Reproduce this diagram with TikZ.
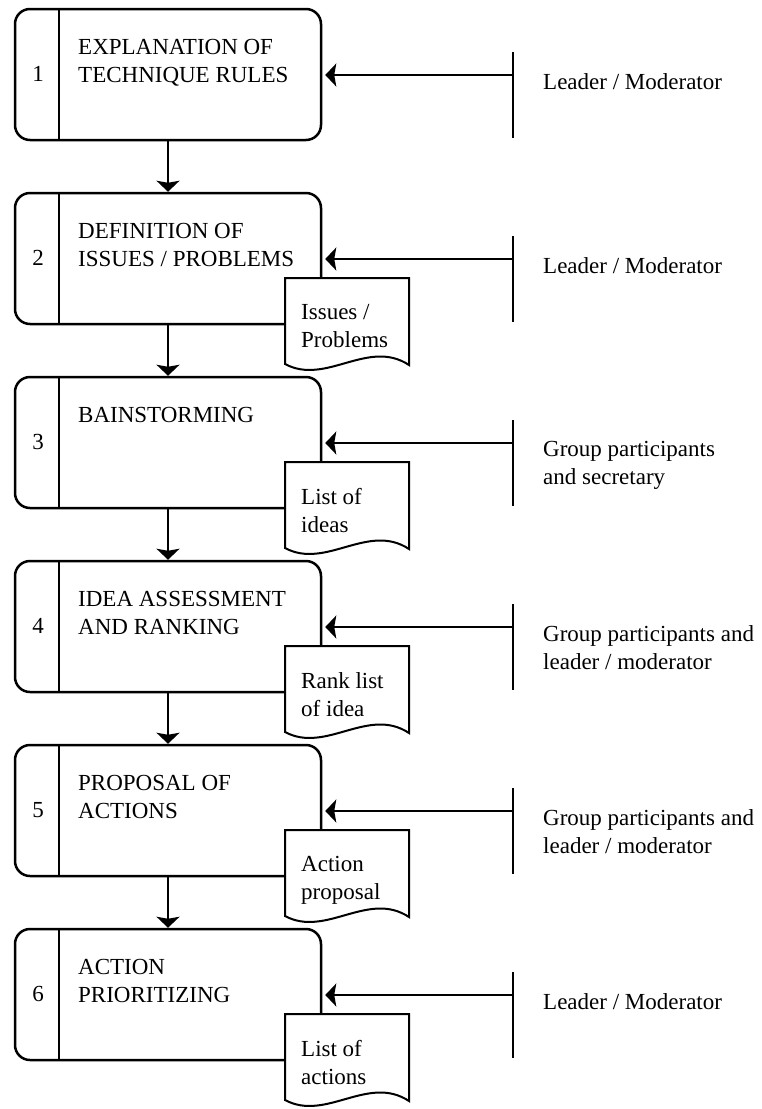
\documentclass[tikz,border=0pt]{standalone}
\usepackage{fontspec}
\setmainfont{Liberation Serif}
\usetikzlibrary{arrows.meta}

% document symbol, #1,#2 = top left corner
\newcommand\docshape[2]{%
  \draw[docline] (#1,#2) -- ++(124,0) -- ++(0,87)
    .. controls +(-41,-27) and +(41,22) .. ++(-124,-1) -- cycle;}

\begin{document}
\begin{tikzpicture}[x=1pt,y=-1pt,
    stepbox/.style={draw,line width=2.5pt,rounded corners=15pt,minimum width=306pt,minimum height=131pt,inner sep=0pt},
    divider/.style={line width=2.5pt},
    docline/.style={fill=white,line width=2pt},
    flow/.style={line width=2pt,-{Stealth[length=11pt,width=23pt,inset=2pt]}},
    tick/.style={line width=2pt},
    txt/.style={anchor=north west,inner sep=0pt,align=left,font=\fontsize{23}{28}\selectfont},
    num/.style={inner sep=0pt,font=\fontsize{23}{28}\selectfont}]
    \useasboundingbox (0,0) rectangle (761,1109);

    % steps
    \node[stepbox] (b1) at (168,74.5) {};
    \node[stepbox] (b2) at (168,258.5) {};
    \node[stepbox] (b3) at (168,442.5) {};
    \node[stepbox] (b4) at (168,626.5) {};
    \node[stepbox] (b5) at (168,810.5) {};
    \node[stepbox] (b6) at (168,994.5) {};
    \draw[divider] ([xshift=45pt]b1.north west) -- ([xshift=45pt]b1.south west);
    \draw[divider] ([xshift=45pt]b2.north west) -- ([xshift=45pt]b2.south west);
    \draw[divider] ([xshift=45pt]b3.north west) -- ([xshift=45pt]b3.south west);
    \draw[divider] ([xshift=45pt]b4.north west) -- ([xshift=45pt]b4.south west);
    \draw[divider] ([xshift=45pt]b5.north west) -- ([xshift=45pt]b5.south west);
    \draw[divider] ([xshift=45pt]b6.north west) -- ([xshift=45pt]b6.south west);

    \node[num] (n1) at (38,74) {1};
    \node[num] (n2) at (38,258) {2};
    \node[num] (n3) at (38,442) {3};
    \node[num] (n4) at (38,626) {4};
    \node[num] (n5) at (38,810) {5};
    \node[num] (n6) at (38,994) {6};

    \node[txt] (s1) at (78,39.5) {EXPLANATION OF\\TECHNIQUE RULES};
    \node[txt] (s2) at (78,223.5) {DEFINITION OF\\ISSUES / PROBLEMS};
    \node[txt] (s3) at (78,407.5) {BAINSTORMING};
    \node[txt] (s4) at (78,591.5) {IDEA ASSESSMENT\\AND RANKING};
    \node[txt] (s5) at (78,775.5) {PROPOSAL OF\\ACTIONS};
    \node[txt] (s6) at (78,959.5) {ACTION\\PRIORITIZING};

    % outputs
    \docshape{285}{278}
    \docshape{285}{462}
    \docshape{285}{646}
    \docshape{285}{830}
    \docshape{285}{1014}
    \node[txt] (d2) at (301,304.5) {Issues /\\Problems};
    \node[txt] (d3) at (301,488.5) {List of\\ideas};
    \node[txt] (d4) at (301,672.5) {Rank list\\of idea};
    \node[txt] (d5) at (301,856.5) {Action\\proposal};
    \node[txt] (d6) at (301,1040.5) {List of\\actions};

    % flow between steps
    \draw[flow] (b1.south) -- (b2.north);
    \draw[flow] (b2.south) -- (b3.north);
    \draw[flow] (b3.south) -- (b4.north);
    \draw[flow] (b4.south) -- (b5.north);
    \draw[flow] (b5.south) -- (b6.north);

    % who takes part
    \coordinate (t1) at (513,75);
    \coordinate (t2) at (513,259);
    \coordinate (t3) at (513,443);
    \coordinate (t4) at (513,627);
    \coordinate (t5) at (513,811);
    \coordinate (t6) at (513,995);
    \draw[tick] ([yshift=23pt]t1) -- ([yshift=-63pt]t1);
    \draw[tick] ([yshift=23pt]t2) -- ([yshift=-63pt]t2);
    \draw[tick] ([yshift=23pt]t3) -- ([yshift=-63pt]t3);
    \draw[tick] ([yshift=23pt]t4) -- ([yshift=-63pt]t4);
    \draw[tick] ([yshift=23pt]t5) -- ([yshift=-63pt]t5);
    \draw[tick] ([yshift=23pt]t6) -- ([yshift=-63pt]t6);
    \draw[flow,shorten >=3pt] (t1) -- (b1.east |- t1);
    \draw[flow,shorten >=3pt] (t2) -- (b2.east |- t2);
    \draw[flow,shorten >=3pt] (t3) -- (b3.east |- t3);
    \draw[flow,shorten >=3pt] (t4) -- (b4.east |- t4);
    \draw[flow,shorten >=3pt] (t5) -- (b5.east |- t5);
    \draw[flow,shorten >=3pt] (t6) -- (b6.east |- t6);

    \node[txt] (r1) at (543,73.5) {Leader / Moderator};
    \node[txt] (r2) at (543,257.5) {Leader / Moderator};
    \node[txt] (r3) at (543,441.5) {Group participants\\and secretary};
    \node[txt] (r4) at (543,625.5) {Group participants and\\leader / moderator};
    \node[txt] (r5) at (543,809.5) {Group participants and\\leader / moderator};
    \node[txt] (r6) at (543,993.5) {Leader / Moderator};
\end{tikzpicture}
\end{document}
